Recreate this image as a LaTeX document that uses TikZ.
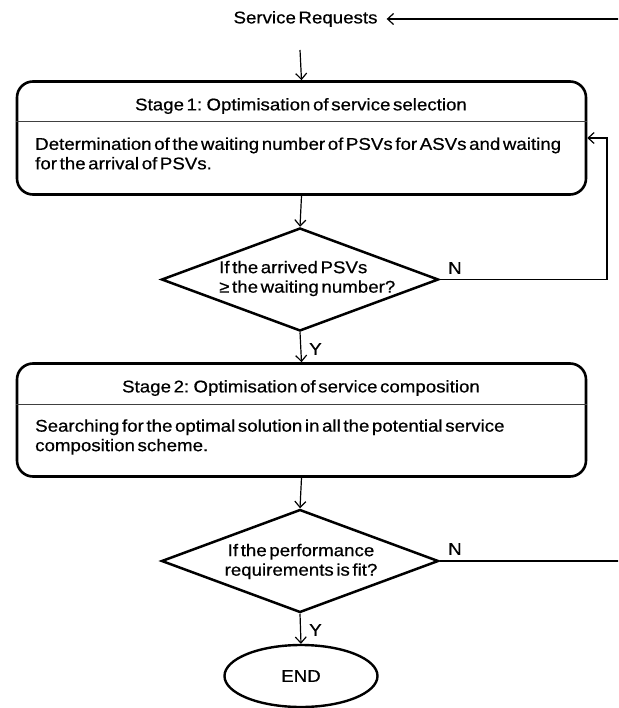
\documentclass[tikz,border=0pt]{standalone}
\usepackage{fontspec}
\setmainfont{Liberation Sans}[FakeStretch=1.1,FakeBold=0.6]
\usetikzlibrary{shapes.geometric,arrows.meta}
\newcommand\diagfont{\fontsize{17}{19.5}\selectfont\spaceskip=2.6pt plus 1pt minus 0.5pt\relax}
\begin{document}
\begin{tikzpicture}[x=1pt,y=-1pt,
  every node/.style={font=\diagfont, inner sep=0pt},
  stagebox/.style={draw, line width=2.6pt, rounded corners=16pt, minimum width=569pt, minimum height=113pt},
  decision/.style={draw, diamond, line width=2.5pt, minimum width=277pt, minimum height=103pt},
  terminal/.style={draw, ellipse, line width=2.4pt, minimum width=153pt, minimum height=62pt},
  divider/.style={line width=1pt, black!75},
  conn/.style={line width=1.2pt, -{Straight Barb[length=6pt,width=11pt,line width=1.2pt]}},
  lbl/.style={anchor=west}
]
\useasboundingbox (0,0) rectangle (618,708);
\clip (0,0) rectangle (618,708);

% top
\node[inner xsep=9pt] (sr) at (305.5,19) {Service Requests};
\coordinate (start) at (300,50);

% stage 1
\node[stagebox] (b1) at (301.5,138) {};
\draw[divider] (b1.west |- 0,122) -- (b1.east |- 0,122);
\node (b1t) at (301,106) {Stage 1: Optimisation of service selection};
\node[anchor=west, align=left] (b1b) at (35,153.5) {Determination of the waiting number of PSVs for ASVs and waiting\\for the arrival of PSVs.};

% decision 1
\node[decision] (d1) at (300,279.5) {};
\node[anchor=west, align=left] (d1t) at (219,278.5) {If the arrived PSVs\\≥ the waiting number?};
\coordinate (fb) at (607,279.5);

% stage 2
\node[stagebox] (b2) at (301.5,420) {};
\draw[divider] (b2.west |- 0,404) -- (b2.east |- 0,404);
\node (b2t) at (301,388) {Stage 2: Optimisation of service composition};
\node[anchor=west, align=left] (b2b) at (35,437) {Searching for the optimal solution in all the potential service\\composition scheme.};

% decision 2
\node[decision] (d2) at (300,561) {};
\node[align=center] (d2t) at (301,561.5) {If the performance\\requirements is fit?};
\coordinate (rr) at (624,561);

% end
\node[terminal] (end) at (301,676) {END};

% labels
\node[lbl] (n1) at (448,268) {N};
\node[lbl] (y1) at (309,349) {Y};
\node[lbl] (n2) at (448,549) {N};
\node[lbl] (y2) at (309,630) {Y};

% connectors
\draw[conn] (start) -- (b1.north);
\draw[conn] (b1.south) -- (d1.north);
\draw[conn] (d1.south) -- (b2.north);
\draw[conn] (d1.east) -- (fb) |- (b1.east);
\draw[conn] (b2.south) -- (d2.north);
\draw[conn] (d2.south) -- (end.north);
\draw[conn] (d2.east) -- (rr) |- (sr.east);
\end{tikzpicture}
\end{document}
